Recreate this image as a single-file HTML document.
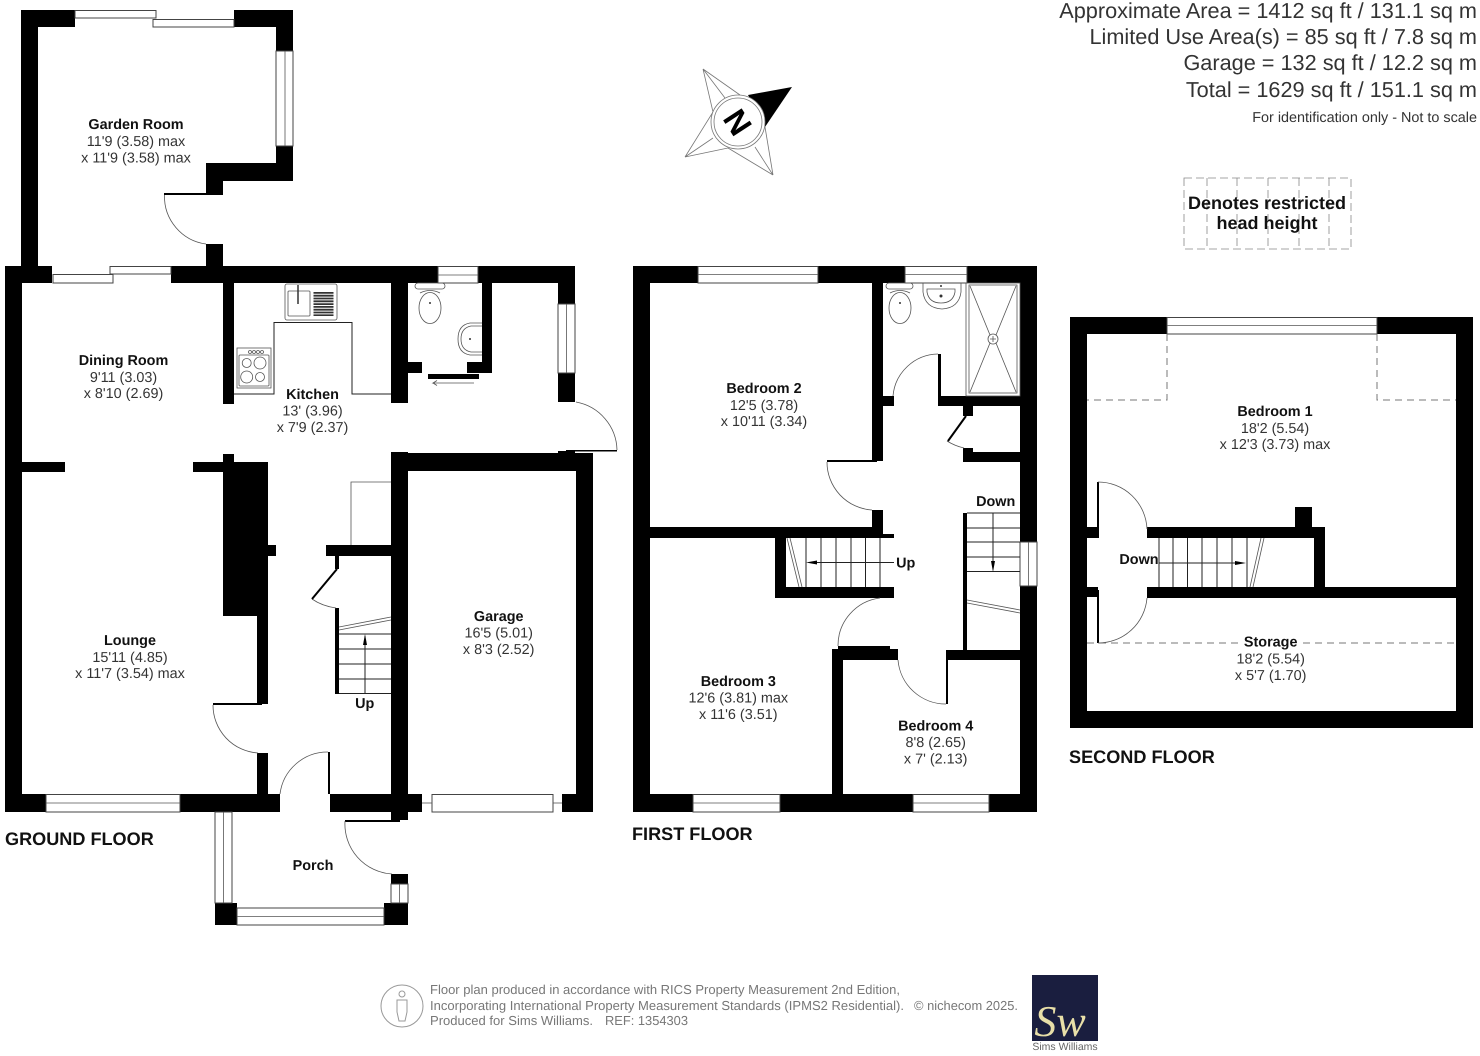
<!DOCTYPE html>
<html><head><meta charset="utf-8"><style>
html,body{margin:0;padding:0;background:#fff}
svg{display:block;filter:blur(.35px)}
text{font-family:"Liberation Sans",sans-serif;fill:#222;text-rendering:geometricPrecision}
.b{font-weight:bold;font-size:14.4px;text-anchor:middle;fill:#111}
.r{font-size:14.4px;text-anchor:middle;fill:#333}
.f{font-weight:bold;font-size:18.1px;fill:#111}
.a{font-size:21.7px;text-anchor:end;fill:#333}
.w{fill:#fff;stroke:#444;stroke-width:1}
.l{fill:none;stroke:#222;stroke-width:1}
.g{fill:none;stroke:#555;stroke-width:.8}
.c{fill:none;stroke:#777;stroke-width:.8}
.d{fill:none;stroke:#777;stroke-width:1;stroke-dasharray:7 5}
.t{font-size:13px;fill:#777}
</style></head><body>
<svg xmlns="http://www.w3.org/2000/svg" width="1480" height="1056" viewBox="0 0 1480 1056">
<rect width="1480" height="1056" fill="#fff"/>

<!-- GROUND FLOOR walls -->
<g fill="#000">
<rect x="21" y="10" width="17" height="256"/>
<rect x="21" y="10" width="54" height="17"/>
<rect x="234" y="10" width="59" height="17"/>
<rect x="276" y="10" width="17" height="41"/>
<rect x="276" y="146" width="17" height="35"/>
<rect x="206" y="163" width="87" height="18"/>
<rect x="206" y="163" width="17" height="32"/>
<rect x="164" y="193" width="50" height="2"/>
<rect x="206" y="244" width="17" height="22"/>
<rect x="5" y="266" width="17" height="546"/>
<rect x="5" y="266" width="47" height="17"/>
<rect x="171" y="266" width="267" height="17"/>
<rect x="478" y="266" width="97" height="17"/>
<rect x="223" y="283" width="11" height="121"/>
<rect x="391" y="283" width="17" height="120"/>
<rect x="482" y="283" width="10" height="90"/>
<rect x="408" y="362" width="14" height="11"/>
<rect x="467" y="362" width="25" height="11"/>
<rect x="428" y="374" width="51" height="5"/>
<rect x="558" y="266" width="17" height="38"/>
<rect x="558" y="373" width="17" height="29"/>
<rect x="566" y="450" width="51" height="1.5"/>
<rect x="558" y="451" width="17" height="3"/>
<rect x="391" y="452" width="17" height="368"/>
<rect x="391" y="453" width="202" height="18"/>
<rect x="576" y="453" width="17" height="359"/>
<rect x="562" y="794" width="31" height="18"/>
<rect x="391" y="794" width="31" height="18"/>
<rect x="22" y="462" width="43" height="10"/>
<rect x="193" y="462" width="75" height="10"/>
<rect x="223" y="454" width="11" height="10"/>
<rect x="223" y="462" width="45" height="154"/>
<rect x="268" y="545" width="8" height="11"/>
<rect x="257" y="616" width="11" height="88"/>
<rect x="213" y="703" width="49" height="2"/>
<rect x="257" y="753" width="11" height="41"/>
<rect x="326" y="545" width="65" height="11"/>
<rect x="335" y="556" width="4" height="13"/>
<rect x="335" y="608" width="4" height="86"/>
<rect x="5" y="794" width="41" height="18"/>
<rect x="180" y="794" width="100" height="18"/>
<rect x="330" y="794" width="61" height="18"/>
<rect x="328" y="752" width="2" height="42"/>
<rect x="345" y="820" width="55" height="2"/>
<rect x="215" y="903" width="22" height="22"/>
<rect x="384" y="903" width="24" height="22"/>
<rect x="391" y="874" width="17" height="10"/>
</g>
<!-- ground windows -->
<g>
<rect class="w" x="75" y="10.5" width="81" height="7.5"/>
<rect class="w" x="153" y="19.5" width="81" height="7.5"/>
<rect class="w" x="276" y="51" width="17" height="95"/><line class="g" x1="285" y1="51" x2="285" y2="146"/>
<rect class="w" x="53" y="274.5" width="60" height="8.5"/>
<rect class="w" x="110" y="266.5" width="61" height="7.5"/>
<rect class="w" x="438" y="266.5" width="40" height="16.5"/><line class="g" x1="438" y1="275" x2="478" y2="275"/>
<rect class="w" x="558" y="304" width="17" height="69"/><line class="g" x1="566.5" y1="304" x2="566.5" y2="373"/>
<rect class="w" x="46" y="794.5" width="134" height="17.5"/><line class="g" x1="46" y1="803" x2="180" y2="803"/>
<rect class="w" x="432" y="794.5" width="121" height="17.5"/>
<line class="g" x1="422" y1="803" x2="432" y2="803"/><line class="g" x1="553" y1="803" x2="562" y2="803"/>
<rect class="w" x="215" y="812" width="17" height="91"/><line class="g" x1="223.5" y1="812" x2="223.5" y2="903"/>
<rect class="w" x="237" y="908" width="147" height="17"/><line class="g" x1="237" y1="916.5" x2="384" y2="916.5"/>
<rect class="w" x="391" y="884" width="17" height="19"/><line class="g" x1="399.5" y1="884" x2="399.5" y2="903"/>
</g>
<!-- ground doors -->
<g class="g">
<path d="M164.5 195A48 48 0 0 0 206 244"/>
<path d="M576 402A50 50 0 0 1 617 450"/>
<path d="M213 705A48 48 0 0 0 258 753"/>
<path d="M280 794A48 48 0 0 1 328 752"/>
<path d="M345 821A50 50 0 0 0 392 874"/>
<path d="M312 599Q322 606 336 608"/>
</g>
<line x1="337" y1="569" x2="312" y2="599" stroke="#000" stroke-width="2"/>
<!-- kitchen fittings -->
<path class="l" d="M234 394H274V322.5H352V394H391"/>
<rect class="g" x="285" y="284" width="52" height="36" rx="2"/>
<rect class="g" x="288" y="291" width="22" height="25" rx="1"/>
<line x1="323.5" y1="292" x2="323.5" y2="316" stroke="#333" stroke-width="20" stroke-dasharray="1.8 1"/>
<line x1="298" y1="285" x2="298" y2="304" stroke="#333" stroke-width="1.5"/>
<rect class="g" x="237" y="348" width="34" height="40"/>
<rect class="g" x="239" y="355" width="30" height="31" rx="1"/>
<g class="g"><circle cx="246.7" cy="363" r="4.5"/><circle cx="260" cy="363" r="6"/><circle cx="246.7" cy="377" r="6"/><circle cx="260" cy="377" r="4.5"/>
<circle cx="250" cy="352" r="1.5"/><circle cx="254" cy="352" r="1.5"/><circle cx="258" cy="352" r="1.5"/><circle cx="262" cy="352" r="1.5"/></g>
<!-- ground WC -->
<g class="g"><ellipse cx="430" cy="308" rx="11" ry="15.5"/><rect x="415" y="283" width="30" height="6" rx="3"/><path d="M420 293Q430 288 440 293"/>
<path d="M482 323H470Q458 325 458 339Q458 353 470 355H482"/><path d="M482 326H471Q461 328 461 339Q461 350 471 352H482"/></g>
<circle cx="430" cy="303" r="1" fill="#333"/><circle cx="470" cy="339" r="1" fill="#333"/>
<path class="g" d="M474 383H433l4-2.5M433 383l4 2.5"/>
<!-- ground stairs -->
<path class="l" d="M339 634H391M339 649H391M339 664H391M339 679H391M339 693.5H391M365 693.5V636"/>
<polygon points="365,634 363,645 367,645" fill="#000"/>
<path class="g" d="M339 627L391 617M339 630L391 620"/>
<path class="g" d="M351 545V482H391"/>

<!-- FIRST FLOOR walls -->
<g fill="#000">
<rect x="633" y="266" width="17" height="546"/>
<rect x="633" y="266" width="65" height="17"/>
<rect x="818" y="266" width="87" height="17"/>
<rect x="967" y="266" width="70" height="17"/>
<rect x="1020" y="266" width="17" height="276"/>
<rect x="1020" y="586" width="17" height="226"/>
<rect x="633" y="794" width="60" height="18"/>
<rect x="780" y="794" width="133" height="18"/>
<rect x="989" y="794" width="48" height="18"/>
<rect x="872" y="283" width="11" height="178"/>
<rect x="827" y="460" width="50" height="2"/>
<rect x="872" y="510" width="11" height="28"/>
<rect x="650" y="527" width="233" height="11"/>
<rect x="872" y="534" width="22" height="4"/>
<rect x="775" y="527" width="11" height="71"/>
<rect x="775" y="587" width="119" height="11"/>
<rect x="838" y="646" width="52" height="3"/>
<rect x="832" y="649" width="66" height="11"/>
<rect x="832" y="649" width="11" height="145"/>
<rect x="946" y="650" width="74" height="10"/>
<rect x="946" y="654" width="2" height="50"/>
<rect x="963" y="513" width="4" height="137"/>
<rect x="938" y="396" width="82" height="10"/>
<rect x="938" y="354" width="3" height="42"/>
<rect x="883" y="396" width="11" height="10"/>
<rect x="963" y="406" width="10" height="10"/>
<rect x="963" y="448" width="10" height="14"/>
<rect x="963" y="452" width="57" height="10"/>
</g>
<g>
<rect class="w" x="698" y="266.5" width="120" height="16.5"/><line class="g" x1="698" y1="274.5" x2="818" y2="274.5"/>
<rect class="w" x="905" y="266.5" width="62" height="16.5"/><line class="g" x1="905" y1="274.5" x2="967" y2="274.5"/>
<rect class="w" x="1020" y="542" width="17" height="44"/><line class="g" x1="1028.5" y1="542" x2="1028.5" y2="586"/>
<rect class="w" x="693" y="794.5" width="87" height="17.5"/><line class="g" x1="693" y1="803" x2="780" y2="803"/>
<rect class="w" x="913" y="794.5" width="76" height="17.5"/><line class="g" x1="913" y1="803" x2="989" y2="803"/>
</g>
<g class="g">
<path d="M827 462A48 48 0 0 0 872 510"/>
<path d="M893 396A46 46 0 0 1 938 354"/>
<path d="M947 441Q955 446 964 448"/>
<path d="M838 646A48 48 0 0 1 880 598"/>
<path d="M898 660A48 48 0 0 0 946 704"/>
</g>
<line x1="966" y1="416" x2="948" y2="441" stroke="#000" stroke-width="2"/>
<!-- first stairs -->
<path class="l" d="M806 538V587M821 538V587M836 538V587M851 538V587M865.5 538V587M880 538V587M894 562.5H815"/>
<polygon points="806,562.5 817,560.5 817,564.5" fill="#000"/>
<path class="g" d="M787 538L799 587M790 538L802 587"/>
<path class="l" d="M967 513H1020M967 528H1020M967 542H1020M967 557H1020M967 571.5H1020M993 513V565"/>
<polygon points="993,572 991,561 995,561" fill="#000"/>
<path class="g" d="M967 600L1020 610M967 603L1020 613"/>
<!-- bathroom -->
<rect class="g" x="966" y="283" width="54" height="113"/>
<rect class="g" x="969" y="285" width="48" height="108"/>
<path class="g" d="M970 286L990 335M1016 286L996 335M970 392L990 343M1016 392L996 343"/>
<circle class="g" cx="993" cy="339" r="5"/><path class="g" d="M990 339H996M993 336V342"/>
<g class="g"><ellipse cx="900" cy="308" rx="11" ry="15.5"/><rect x="886" y="283" width="27" height="6" rx="3"/><path d="M890 293Q900 288 910 293"/>
<path d="M923 283V292Q925 308 942 309Q959 308 961 292V283"/><path d="M927 289H955V292Q953 303 941 303Q929 303 927 292Z"/></g>
<circle cx="900" cy="303" r="1" fill="#333"/><circle cx="941" cy="296" r="1.5" fill="#333"/><circle cx="941" cy="286" r="1" fill="#333"/>

<!-- SECOND FLOOR -->
<g fill="#000">
<rect x="1070" y="317" width="97" height="17"/>
<rect x="1377" y="317" width="96" height="17"/>
<rect x="1070" y="317" width="17" height="411"/>
<rect x="1456" y="317" width="17" height="411"/>
<rect x="1070" y="711" width="403" height="17"/>
<rect x="1087" y="527" width="11" height="11"/>
<rect x="1087" y="587" width="11" height="10"/>
<rect x="1097" y="482" width="2" height="56"/>
<rect x="1097" y="590" width="2" height="53"/>
<rect x="1147" y="527" width="178" height="11"/>
<rect x="1295" y="507" width="17" height="20"/>
<rect x="1314" y="527" width="11" height="71"/>
<rect x="1147" y="587" width="309" height="11"/>
</g>
<rect class="w" x="1167" y="317.5" width="210" height="16.5"/><line class="g" x1="1167" y1="325.5" x2="1377" y2="325.5"/>
<path class="d" d="M1167 334V400H1087M1377 334V400H1456M1087 643H1456"/>
<rect x="1243" y="636" width="55" height="13" fill="#fff"/>
<g class="g"><path d="M1098 482A49 49 0 0 1 1147 529"/><path d="M1147 598A49 49 0 0 1 1098 643"/></g>
<path class="l" d="M1159 538V587M1173 538V587M1187.5 538V587M1202 538V587M1217 538V587M1232 538V587M1247 538V587M1159 563H1238"/>
<polygon points="1246,563 1235,561 1235,565" fill="#000"/>
<path class="g" d="M1261 538L1250 587M1264 538L1253 587"/>

<!-- restricted head height box -->
<path d="M1184 178H1351V249H1184ZM1207 178V249M1237 178V249M1268 178V249M1299 178V249M1329 178V249" fill="none" stroke="#888" stroke-width=".8" stroke-dasharray="8 4"/>
<text x="1267" y="209" text-anchor="middle" style="font-weight:bold;font-size:18px;fill:#111">Denotes restricted</text>
<text x="1267" y="229" text-anchor="middle" style="font-weight:bold;font-size:18px;fill:#111">head height</text>

<!-- compass -->
<g class="c">
<path d="M703 69L713 112M703 69L740 95M703 69L725 98"/>
<path d="M685 157L713 112M685 157L728 148M685 157L713 138"/>
<path d="M773 175L728 148M773 175L765 127M773 175L755 147"/>
</g>
<polygon points="748,95 792,87 765,127" fill="#000"/>
<circle cx="738" cy="122" r="27" fill="#fff" stroke="#777" stroke-width=".8"/>
<circle cx="738" cy="122" r="24" fill="none" stroke="#777" stroke-width=".8"/>
<text x="738" y="122" text-anchor="middle" transform="rotate(57 738 122)" dy="11.5" style="font-weight:bold;font-size:32px;fill:#000">N</text>

<!-- area text -->
<text class="a" x="1477" y="18">Approximate Area = 1412 sq ft / 131.1 sq m</text>
<text class="a" x="1477" y="44">Limited Use Area(s) = 85 sq ft / 7.8 sq m</text>
<text class="a" x="1477" y="70">Garage = 132 sq ft / 12.2 sq m</text>
<text class="a" x="1477" y="97">Total = 1629 sq ft / 151.1 sq m</text>
<text x="1477" y="122" text-anchor="end" style="font-size:14.4px;fill:#333">For identification only - Not to scale</text>

<!-- labels -->
<text class="b" x="136" y="129">Garden Room</text><text class="r" x="136" y="146">11'9 (3.58) max</text><text class="r" x="136" y="162.5">x 11'9 (3.58) max</text>
<text class="b" x="123.5" y="365">Dining Room</text><text class="r" x="123.5" y="382">9'11 (3.03)</text><text class="r" x="123.5" y="398">x 8'10 (2.69)</text>
<text class="b" x="312.5" y="399">Kitchen</text><text class="r" x="312.5" y="415.7">13' (3.96)</text><text class="r" x="312.5" y="432">x 7'9 (2.37)</text>
<text class="b" x="130" y="645">Lounge</text><text class="r" x="130" y="662">15'11 (4.85)</text><text class="r" x="130" y="678">x 11'7 (3.54) max</text>
<text class="b" x="498.7" y="621">Garage</text><text class="r" x="498.7" y="637.7">16'5 (5.01)</text><text class="r" x="498.7" y="654">x 8'3 (2.52)</text>
<text class="b" x="313" y="870">Porch</text>
<text class="b" x="364.7" y="708">Up</text>
<text class="b" x="764" y="393">Bedroom 2</text><text class="r" x="764" y="410">12'5 (3.78)</text><text class="r" x="764" y="426">x 10'11 (3.34)</text>
<text class="b" x="738.3" y="686">Bedroom 3</text><text class="r" x="738.3" y="702.7">12'6 (3.81) max</text><text class="r" x="738.3" y="719">x 11'6 (3.51)</text>
<text class="b" x="935.7" y="730.7">Bedroom 4</text><text class="r" x="935.7" y="747">8'8 (2.65)</text><text class="r" x="935.7" y="763.5">x 7' (2.13)</text>
<text class="b" x="905.7" y="567.7">Up</text>
<text class="b" x="995.7" y="506">Down</text>
<text class="b" x="1275" y="416">Bedroom 1</text><text class="r" x="1275" y="433">18'2 (5.54)</text><text class="r" x="1275" y="449">x 12'3 (3.73) max</text>
<text class="b" x="1270.7" y="646.7">Storage</text><text class="r" x="1270.7" y="663.7">18'2 (5.54)</text><text class="r" x="1270.7" y="680">x 5'7 (1.70)</text>
<text class="b" x="1139" y="564">Down</text>

<text class="f" x="5" y="845">GROUND FLOOR</text>
<text class="f" x="632" y="840">FIRST FLOOR</text>
<text class="f" x="1069" y="763">SECOND FLOOR</text>

<!-- footer -->
<circle cx="402" cy="1006" r="21" fill="none" stroke="#999" stroke-width="1"/>
<circle cx="402" cy="994" r="3" fill="none" stroke="#999"/>
<path d="M397 1000H407V1012L405 1021H399L397 1012Z" fill="none" stroke="#999"/>
<text class="t" x="430" y="994" textLength="470" lengthAdjust="spacingAndGlyphs">Floor plan produced in accordance with RICS Property Measurement 2nd Edition,</text>
<text class="t" x="430" y="1010" textLength="474" lengthAdjust="spacingAndGlyphs">Incorporating International Property Measurement Standards (IPMS2 Residential).</text>
<text class="t" x="914" y="1010" textLength="104" lengthAdjust="spacingAndGlyphs">© nichecom 2025.</text>
<text class="t" x="430" y="1025" textLength="163" lengthAdjust="spacingAndGlyphs">Produced for Sims Williams.</text>
<text class="t" x="605" y="1025" textLength="83" lengthAdjust="spacingAndGlyphs">REF: 1354303</text>
<rect x="1032" y="975" width="66" height="66" fill="#1a1e3f"/>
<text x="1060" y="1036" text-anchor="middle" style="font-family:'Liberation Serif',serif;font-style:italic;font-size:44px;fill:#e8dfa8">Sw</text>
<text x="1065" y="1050" text-anchor="middle" style="font-size:10.5px;fill:#666">Sims Williams</text>
</svg>
</body></html>
